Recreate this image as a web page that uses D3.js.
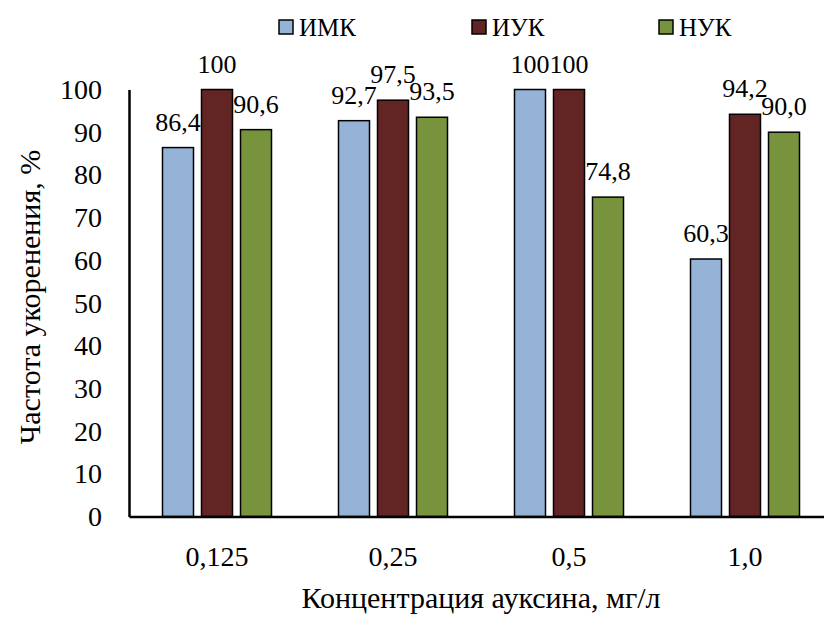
<!DOCTYPE html>
<html><head><meta charset="utf-8"><script src="https://cdn.jsdelivr.net/npm/d3@7"></script></head>
<body style="margin:0">
<svg id="s" width="824" height="617"></svg>
<script>
// Auxin concentrations (mg/l)
const categories = ["0,125", "0,25", "0,5", "1,0"];
// Auxin types
const seriesNames = ["ИМК", "ИУК", "НУК"];
// Rooting frequency, %
const imk = [86.4, 92.7, 100, 60.3];
const iuk = [100, 97.5, 100, 94.2];
const nuk = [90.6, 93.5, 74.8, 90.0];
// Labels printed above the bars
const imkLabels = ["86,4", "92,7", "100", "60,3"];
const iukLabels = ["100", "97,5", "100", "94,2"];
const nukLabels = ["90,6", "93,5", "74,8", "90,0"];
const yTicks = [0, 10, 20, 30, 40, 50, 60, 70, 80, 90, 100];

const colors = { "ИМК": "#95B3D7", "ИУК": "#632523", "НУК": "#77933C" };
const values = { "ИМК": imk, "ИУК": iuk, "НУК": nuk };
const labels = { "ИМК": imkLabels, "ИУК": iukLabels, "НУК": nukLabels };

const svg = d3.select("#s");
const plotLeft = 129, plotRight = 833, plotTop = 89.5, plotBottom = 516.5;

// Every text is created here, with the serif face set on the element itself
function addText(parent, size) {
  return parent.append("text")
    .attr("font-size", size)
    .style("font-family", '"Liberation Serif"');
}

const x0 = d3.scaleBand().domain(categories).range([plotLeft, plotRight]).padding(0);
const groupWidth = 109;
const x1 = d3.scaleBand().domain(seriesNames).range([0, groupWidth])
  .paddingInner(8 / 39).paddingOuter(0);
const y = d3.scaleLinear().domain([0, 100]).range([plotBottom, plotTop]);

// Bars and their value labels
categories.forEach((c, i) => {
  const gx0 = x0(c) + (x0.bandwidth() - groupWidth) / 2;
  seriesNames.forEach(s => {
    const v = values[s][i];
    svg.append("rect")
      .attr("x", gx0 + x1(s))
      .attr("y", y(v))
      .attr("width", x1.bandwidth())
      .attr("height", y(0) - y(v))
      .attr("fill", colors[s])
      .attr("stroke", "#000")
      .attr("stroke-width", 1.5);
    addText(svg, 26)
      .attr("x", gx0 + x1(s) + x1.bandwidth() / 2)
      .attr("y", y(v) - 17)
      .attr("text-anchor", "middle")
      .text(labels[s][i]);
  });
});

// Axis lines drawn by d3 axes; their labels are plain texts placed from the same scales
const gy = svg.append("g").attr("transform", `translate(${plotLeft},0)`)
  .call(d3.axisLeft(y).tickValues(yTicks).tickSize(0).tickFormat(() => ""));
gy.select(".domain").attr("stroke", "#000").attr("stroke-width", 2.5);
const gxAxis = svg.append("g").attr("transform", `translate(0,${plotBottom})`)
  .call(d3.axisBottom(x0).tickSize(0).tickFormat(() => ""));
gxAxis.select(".domain").attr("stroke", "#000").attr("stroke-width", 2.5);

yTicks.forEach(t => {
  addText(svg, 28)
    .attr("x", 102)
    .attr("y", y(t) + 9.5)
    .attr("text-anchor", "end")
    .text(d3.format("d")(t));
});
categories.forEach(c => {
  addText(svg, 28)
    .attr("x", x0(c) + x0.bandwidth() / 2)
    .attr("y", 566)
    .attr("text-anchor", "middle")
    .text(c);
});

// Axis titles
addText(svg, 30)
  .attr("x", 481).attr("y", 608)
  .attr("text-anchor", "middle")
  .text("Концентрация ауксина, мг/л");
addText(svg, 30)
  .attr("transform", "translate(40,297) rotate(-90)")
  .attr("text-anchor", "middle")
  .text("Частота укоренения, %");

// Legend
const legendX = [279, 472, 659];
seriesNames.forEach((s, i) => {
  svg.append("rect")
    .attr("x", legendX[i]).attr("y", 20)
    .attr("width", 14).attr("height", 14)
    .attr("fill", colors[s])
    .attr("stroke", "#000").attr("stroke-width", 1.5);
  addText(svg, 25)
    .attr("x", legendX[i] + 20).attr("y", 36)
    .text(s);
});
</script>
</body></html>
